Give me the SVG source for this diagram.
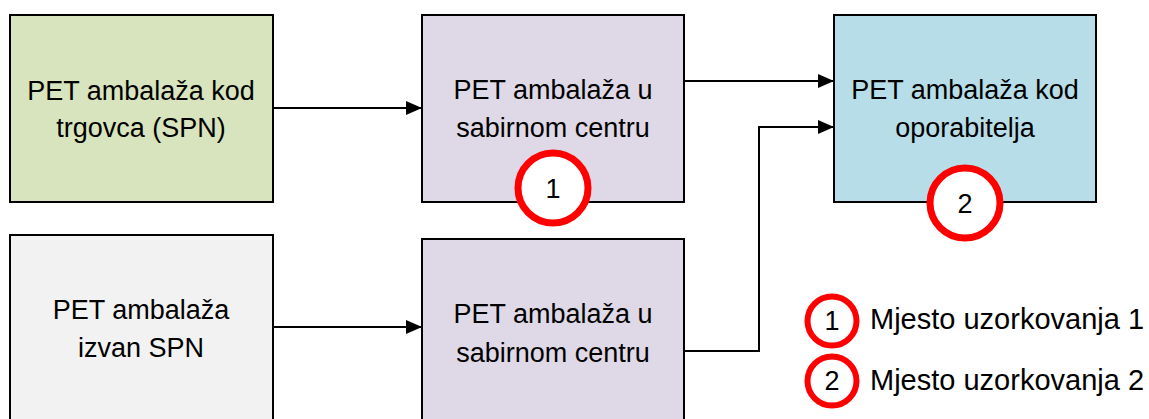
<svg xmlns="http://www.w3.org/2000/svg" width="1149" height="419" viewBox="0 0 1149 419">
<style>
.box{stroke:#000;stroke-width:2}
.t{font-family:"Liberation Sans",Arial,sans-serif;font-size:27px;fill:#000;text-anchor:middle}
.lt{font-family:"Liberation Sans",Arial,sans-serif;font-size:29px;fill:#000}
.ring{fill:#fff;stroke:#ff0000;stroke-width:7}
.lring{fill:#fff;stroke:#ff0000;stroke-width:6}
.edge{fill:none;stroke:#000;stroke-width:2}
</style>
<defs>
<marker id="arr" viewBox="0 0 16 14" refX="16" refY="7" markerWidth="16" markerHeight="14" markerUnits="userSpaceOnUse" orient="auto">
<path d="M0,0 L16,7 L0,14 Z" fill="#000"/>
</marker>
</defs>
<rect width="1149" height="419" fill="#fff"/>
<g id="connectors">
<path class="edge" d="M273,108 L422,108" marker-end="url(#arr)"/>
<path class="edge" d="M684,81 L834,81" marker-end="url(#arr)"/>
<path class="edge" d="M273,327 L422,327" marker-end="url(#arr)"/>
<path class="edge" d="M684,351 L759,351 L759,127 L834,127" marker-end="url(#arr)"/>
</g>
<g id="node-trgovac">
<rect class="box" x="10" y="15" width="263" height="187" fill="#D7E4BD"/>
<text class="t" x="141" y="100">PET ambalaža kod</text>
<text class="t" x="141" y="137">trgovca (SPN)</text>
</g>
<g id="node-sabirni1">
<rect class="box" x="422" y="15" width="262" height="187" fill="#DFD8E6"/>
<text class="t" x="553" y="99">PET ambalaža u</text>
<text class="t" x="553" y="137">sabirnom centru</text>
</g>
<g id="node-oporabitelj">
<rect class="box" x="834" y="15" width="262" height="187" fill="#B7DDE8"/>
<text class="t" x="965" y="99">PET ambalaža kod</text>
<text class="t" x="965" y="137">oporabitelja</text>
</g>
<g id="node-izvan">
<rect class="box" x="10" y="235" width="263" height="200" fill="#F2F2F2"/>
<text class="t" x="141" y="319">PET ambalaža</text>
<text class="t" x="141" y="357">izvan SPN</text>
</g>
<g id="node-sabirni2">
<rect class="box" x="422" y="239" width="262" height="200" fill="#DFD8E6"/>
<text class="t" x="553" y="323">PET ambalaža u</text>
<text class="t" x="553" y="362">sabirnom centru</text>
</g>
<g id="marker-1">
<circle class="ring" cx="553" cy="188" r="35"/>
<text class="t" x="553" y="198">1</text>
</g>
<g id="marker-2">
<circle class="ring" cx="965" cy="203" r="35"/>
<text class="t" x="965" y="213">2</text>
</g>
<g id="legend">
<circle class="lring" cx="832" cy="321" r="24.5"/>
<text class="t" x="832" y="330">1</text>
<text class="lt" x="870" y="329">Mjesto uzorkovanja 1</text>
<circle class="lring" cx="832" cy="381" r="24.5"/>
<text class="t" x="832" y="390">2</text>
<text class="lt" x="870" y="390">Mjesto uzorkovanja 2</text>
</g>
</svg>
